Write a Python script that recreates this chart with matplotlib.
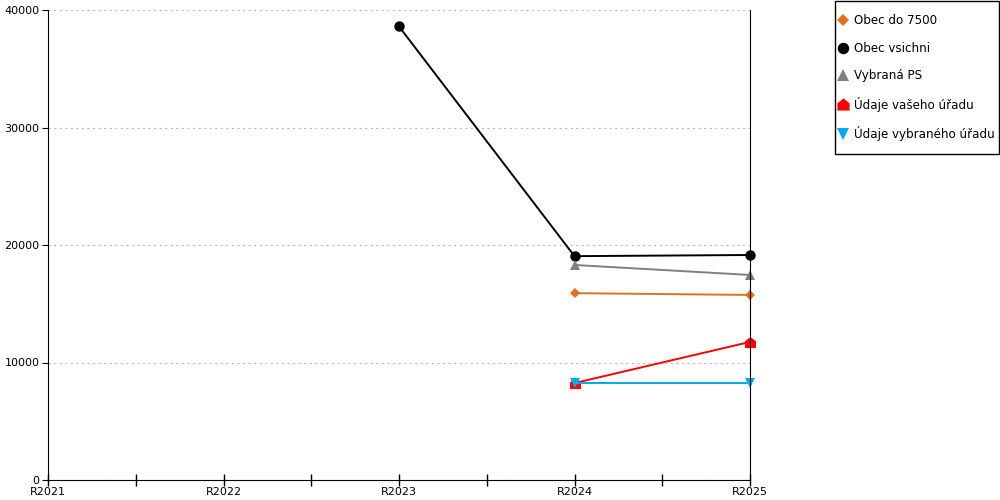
import matplotlib.pyplot as plt
import numpy as np
from matplotlib.path import Path
from matplotlib.patches import Rectangle

years = ["R2021", "R2022", "R2023", "R2024", "R2025"]

obec_7500 = [None, None, None, 15900, 15750]
obec_vsichni = [None, None, 38600, 19050, 19150]
vybrana_ps = [None, None, None, 18300, 17450]
vas_urad = [None, None, None, 8250, 11750]
vybrany_urad = [None, None, None, 8250, 8250]

house = Path([(-1, -1), (1, -1), (1, 0.2), (0, 1), (-1, 0.2), (-1, -1)],
             [Path.MOVETO, Path.LINETO, Path.LINETO, Path.LINETO, Path.LINETO, Path.CLOSEPOLY])

series = [
    ("Obec do 7500", obec_7500, "#e07020", "D", 5.5),
    ("Obec vsichni", obec_vsichni, "#000000", "o", 7.5),
    ("Vybraná PS", vybrana_ps, "#808080", "^", 7.5),
    ("Údaje vašeho úřadu", vas_urad, "#ff0000", house, 8),
    ("Údaje vybraného úřadu", vybrany_urad, "#00aaee", "v", 7.5),
]

plt.rcParams['font.family'] = ['DejaVu Sans']
fig = plt.figure(figsize=(10, 5), dpi=100)
ax = fig.add_axes([0.048, 0.04, 0.702, 0.94])

x = np.arange(len(years))
for label, vals, col, mk, ms in series:
    y = np.array([np.nan if v is None else v for v in vals], dtype=float)
    ax.plot(x, y, color=col, lw=1.4, marker=mk, markersize=ms,
            markeredgewidth=0, label=label, clip_on=False, zorder=3)

ax.set_xlim(0, 4)
ax.set_ylim(0, 40000)
ax.set_xticks(x)
ax.set_xticklabels(years, fontsize=8)
ax.set_xticks(np.arange(0.5, 4, 1), minor=True)
ax.tick_params(axis='x', which='both', direction='inout', length=8, width=1, pad=1)
ax.set_yticks([0, 10000, 20000, 30000, 40000])
ax.tick_params(axis='y', direction='out', length=4, labelsize=8, pad=2)
ax.yaxis.grid(True, linestyle=(0, (2, 3)), color='#bbbbbb', lw=0.8)
ax.spines['top'].set_visible(False)
ax.spines['right'].set_color('black')
ax.spines['right'].set_zorder(4)

# legend box drawn by hand, entries in a frameless legend
fig.patches.append(Rectangle((0.835, 0.692), 0.164, 0.306, transform=fig.transFigure,
                             fill=False, edgecolor='black', lw=1))
leg_handles = []
for label, vals, col, mk, ms in series:
    leg_handles.append(plt.Line2D([], [], color=col, marker=mk, markersize=ms * 1.1,
                                  markeredgewidth=0, linestyle='none'))
fig.legend(leg_handles, [s[0] for s in series], loc='upper left',
           bbox_to_anchor=(0.838, 0.971), fontsize=8.6, frameon=False,
           labelspacing=1.2, handlelength=0.9, handletextpad=0.4,
           borderpad=0, borderaxespad=0)

fig.savefig("out.png", dpi=100)
